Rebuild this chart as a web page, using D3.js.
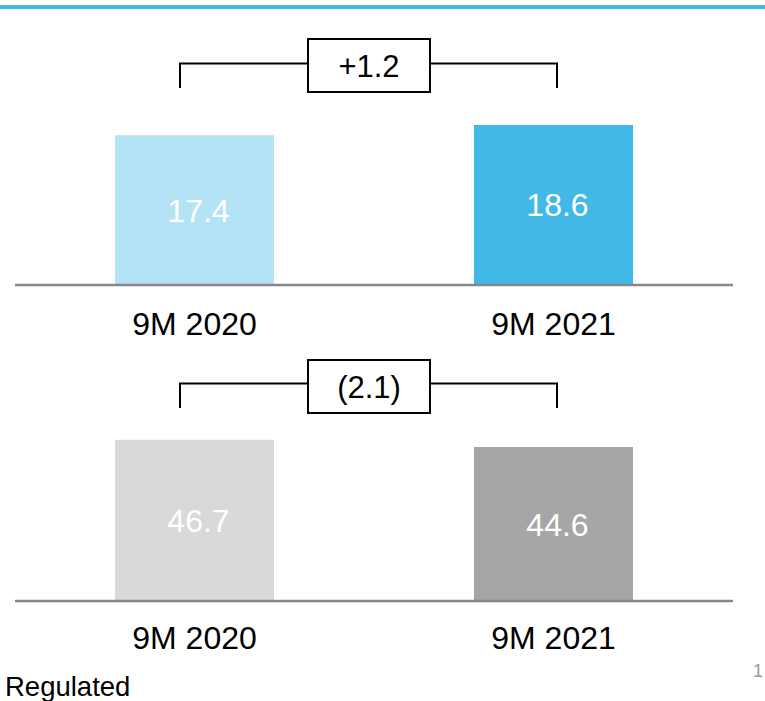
<!DOCTYPE html>
<html>
<head>
<meta charset="utf-8">
<script src="https://cdn.jsdelivr.net/npm/d3@7"></script>
<style>
  body { margin: 0; background: #fff; }
  svg { display: block; font-family: "Liberation Sans", Arial, sans-serif; }
</style>
</head>
<body>
<svg id="chart" width="765" height="701"></svg>
<script>
// data
var categories = ["9M 2020", "9M 2021"];
var topValues = [17.4, 18.6];
var bottomValues = [46.7, 44.6];
var deltaLabels = ["+1.2", "(2.1)"];
var footnote = "Regulated";
var pageNumber = "1";

var svg = d3.select("#chart");

// header rule
svg.append("rect")
  .attr("x", 0).attr("y", 5)
  .attr("width", 765).attr("height", 4)
  .attr("fill", "#41b6e6");

var x = d3.scaleBand()
  .domain(categories)
  .range([15, 733])
  .paddingInner(0.557)
  .paddingOuter(0.2785);

// one panel per series
var panels = [
  { values: topValues, delta: deltaLabels[0], colors: ["#b4e3f5", "#41b8e6"],
    y: d3.scaleLinear().domain([0, 20]).range([284, 113]),
    bracketY: 63.5, bracketBottom: 88, boxTop: 39, boxBottom: 92, labelY: 335 },
  { values: bottomValues, delta: deltaLabels[1], colors: ["#d9d9d9", "#a6a6a6"],
    y: d3.scaleLinear().domain([0, 50]).range([600, 428.5]),
    bracketY: 383.5, bracketBottom: 408, boxTop: 360, boxBottom: 413, labelY: 649 }
];

panels.forEach(function(p) {
  var g = svg.append("g");
  var y = p.y;
  var rows = categories.map((c, i) => ({ cat: c, value: p.values[i], color: p.colors[i] }));

  g.selectAll(".bar")
    .data(rows)
    .enter().append("rect")
      .attr("class", "bar")
      .attr("x", d => x(d.cat))
      .attr("y", d => y(d.value))
      .attr("width", x.bandwidth())
      .attr("height", d => y(0) - y(d.value))
      .attr("fill", d => d.color);

  g.selectAll(".val")
    .data(rows)
    .enter().append("text")
      .attr("class", "val")
      .attr("x", d => x(d.cat) + x.bandwidth() / 2 + 4)
      .attr("y", d => (y(d.value) + y(0)) / 2 + 12)
      .attr("text-anchor", "middle")
      .attr("font-size", 32)
      .attr("fill", "#fff")
      .text(d => d.value.toFixed(1));

  // baseline
  g.append("line")
    .attr("x1", x.range()[0]).attr("x2", x.range()[1])
    .attr("y1", y(0) + 1).attr("y2", y(0) + 1)
    .attr("stroke", "#878787")
    .attr("stroke-width", 2.5);

  g.selectAll(".cat")
    .data(rows)
    .enter().append("text")
      .attr("class", "cat")
      .attr("x", d => x(d.cat) + x.bandwidth() / 2)
      .attr("y", p.labelY)
      .attr("text-anchor", "middle")
      .attr("font-size", 32)
      .attr("fill", "#000")
      .text(d => d.cat);

  // change bracket
  var xl = x(categories[0]) + x.bandwidth() / 2 - 14.5;
  var xr = x(categories[1]) + x.bandwidth() / 2 + 3.5;
  var boxL = 308, boxR = 430;
  g.append("path")
    .attr("d", "M" + xl + "," + p.bracketBottom + "V" + p.bracketY + "H" + boxL +
               "M" + boxR + "," + p.bracketY + "H" + xr + "V" + p.bracketBottom)
    .attr("fill", "none")
    .attr("stroke", "#000")
    .attr("stroke-width", 2);
  g.append("rect")
    .attr("x", boxL).attr("y", p.boxTop)
    .attr("width", boxR - boxL).attr("height", p.boxBottom - p.boxTop)
    .attr("fill", "#fff")
    .attr("stroke", "#000")
    .attr("stroke-width", 2);
  g.append("text")
    .attr("x", (boxL + boxR) / 2)
    .attr("y", (p.boxTop + p.boxBottom) / 2 + 11)
    .attr("text-anchor", "middle")
    .attr("font-size", 31)
    .attr("fill", "#000")
    .text(p.delta);
});

svg.append("text")
  .attr("x", 5).attr("y", 696)
  .attr("font-size", 27.5)
  .attr("fill", "#000")
  .text(footnote);

svg.append("text")
  .attr("x", 753).attr("y", 677)
  .attr("font-size", 18)
  .attr("fill", "#999")
  .text(pageNumber);
</script>
</body>
</html>
